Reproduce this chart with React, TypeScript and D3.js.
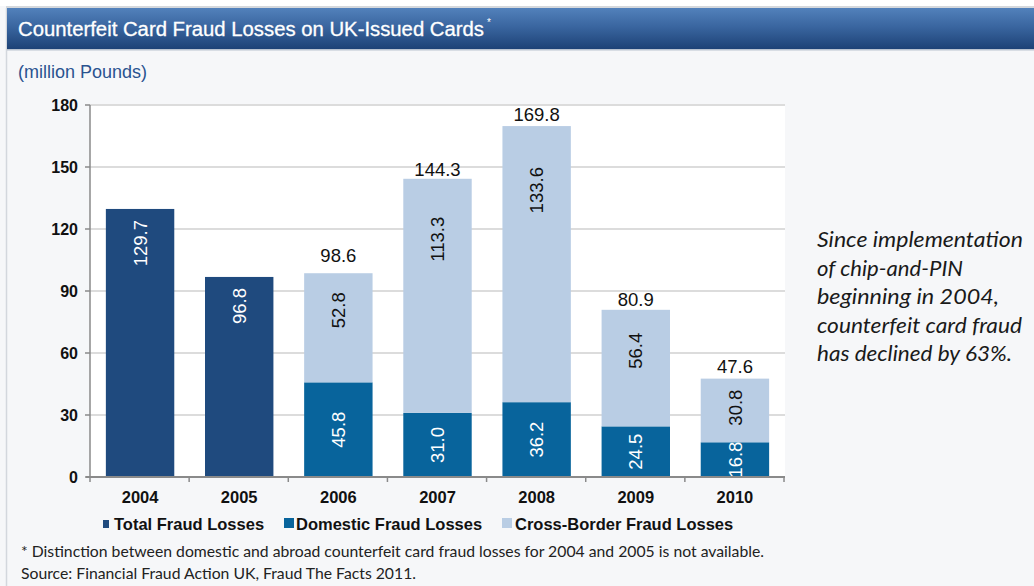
import React from "react";
import * as d3 from "d3";

const years = ["2004", "2005", "2006", "2007", "2008", "2009", "2010"];
const totalLosses = [129.7, 96.8, 98.6, 144.3, 169.8, 80.9, 47.6];
const domesticLosses: (number | null)[] = [null, null, 45.8, 31.0, 36.2, 24.5, 16.8];
const crossBorderLosses: (number | null)[] = [null, null, 52.8, 113.3, 133.6, 56.4, 30.8];
const yTicks = [0, 30, 60, 90, 120, 150, 180];

const legendItems = [
  { label: "Total Fraud Losses", color: "#1f4a7e" },
  { label: "Domestic Fraud Losses", color: "#08649c" },
  { label: "Cross-Border Fraud Losses", color: "#b9cde4" },
];

const sideNote = [
  "Since implementation",
  "of chip-and-PIN",
  "beginning in 2004,",
  "counterfeit card fraud",
  "has declined by 63%.",
];

// layout tweaks for label placement (pixels), not data
const crossLabelInset = [0, 0, 19, 38, 41, 23, 11];
const totalLabelGap = [0, 0, 11, 3, 5, 4, 6];
const sideNoteWidths = [206, 146, 182, 205, 195];

const W = 1034;
const H = 586;
const M = { left: 90, right: 785, top: 105, bottom: 477 };

export default function App() {
  const x = d3
    .scaleBand<string>()
    .domain(years)
    .range([M.left, M.right])
    .paddingInner(0.31)
    .paddingOuter(0.16);
  const y = d3.scaleLinear().domain([0, 180]).range([M.bottom, M.top]);
  const step = x.step();
  const bw = x.bandwidth();
  const labelFont = "'Liberation Sans', Arial, sans-serif";

  return (
    <svg
      width={W}
      height={H}
      style={{ position: "absolute", left: 0, top: 0, display: "block" }}
      fontFamily={labelFont}
    >
      <defs>
        <linearGradient id="hdr" x1="0" y1="0" x2="0" y2="1">
          <stop offset="0" stopColor="#5281bb" />
          <stop offset="0.45" stopColor="#3a66a0" />
          <stop offset="1" stopColor="#1d4276" />
        </linearGradient>
        <clipPath id="plotClip">
          <rect x={M.left} y={M.top - 40} width={M.right - M.left} height={M.bottom - M.top + 40} />
        </clipPath>
      </defs>
      <rect x={0} y={0} width={W} height={H} fill="#f6f7f9" />
      <rect x={0} y={0} width={W} height={6} fill="#ffffff" />
      <rect x={6} y={6} width={W - 6} height={2} fill="#d5d8dc" />
      <line x1={6.5} y1={8} x2={6.5} y2={H} stroke="#d3d7dd" strokeWidth={1.5} />
      <rect x={7} y={8} width={W - 7} height={41} fill="url(#hdr)" />
      <rect x={7} y={49} width={W - 7} height={1.5} fill="#b9c3d0" />
      <text x={18} y={36} fill="#ffffff" fontSize={20} textLength={466} lengthAdjust="spacingAndGlyphs" stroke="#ffffff" strokeWidth={0.3}>
        Counterfeit Card Fraud Losses on UK-Issued Cards
      </text>
      <text x={487} y={26} fill="#ffffff" fontSize={10}>
        *
      </text>
      <text x={18} y={78} fill="#2a5390" fontSize={18}>
        (million Pounds)
      </text>

      {/* plot area */}
      <rect x={M.left} y={M.top} width={M.right - M.left} height={M.bottom - M.top} fill="#ffffff" />
      {yTicks
        .filter((t) => t > 0)
        .map((t) => (
          <line key={t} x1={M.left} x2={M.right} y1={y(t)} y2={y(t)} stroke="#dcdcdc" strokeWidth={2} />
        ))}

      {/* bars */}
      <g>
        {years.map((yr, i) => {
          const bx = x(yr)!;
          const dom = domesticLosses[i];
          const cb = crossBorderLosses[i];
          if (dom === null || cb === null) {
            return (
              <rect key={yr} x={bx} y={y(totalLosses[i])} width={bw} height={y(0) - y(totalLosses[i])} fill={legendItems[0].color} />
            );
          }
          return (
            <g key={yr}>
              <rect x={bx} y={y(dom)} width={bw} height={y(0) - y(dom)} fill={legendItems[1].color} />
              <rect x={bx} y={y(dom + cb)} width={bw} height={y(dom) - y(dom + cb)} fill={legendItems[2].color} />
            </g>
          );
        })}
      </g>

      {/* inside labels */}
      <g clipPath="url(#plotClip)" fontSize={18.5}>
        {years.map((yr, i) => {
          const cx = x(yr)! + bw / 2;
          const dom = domesticLosses[i];
          const cb = crossBorderLosses[i];
          if (dom === null || cb === null) {
            const ty = y(totalLosses[i]) + 11;
            return (
              <text key={yr} transform={`translate(${cx},${ty}) rotate(-90)`} textAnchor="end" dy="0.36em" fill="#ffffff">
                {totalLosses[i].toFixed(1)}
              </text>
            );
          }
          const dy = (y(dom) + y(0)) / 2;
          const cy = y(dom + cb) + crossLabelInset[i];
          return (
            <g key={yr}>
              <text transform={`translate(${cx},${dy}) rotate(-90)`} textAnchor="middle" dy="0.36em" fill="#ffffff">
                {dom.toFixed(1)}
              </text>
              <text transform={`translate(${cx},${cy}) rotate(-90)`} textAnchor="end" dy="0.36em" fill="#111111">
                {cb.toFixed(1)}
              </text>
            </g>
          );
        })}
      </g>

      {/* total labels above stacked bars */}
      <g fontSize={18.5} fill="#111111" textAnchor="middle">
        {years.map((yr, i) =>
          domesticLosses[i] === null ? null : (
            <text key={yr} x={x(yr)! + bw / 2} y={y(totalLosses[i]) - totalLabelGap[i]}>
              {totalLosses[i].toFixed(1)}
            </text>
          )
        )}
      </g>

      {/* axes */}
      <line x1={M.left} x2={M.left} y1={M.top} y2={M.bottom} stroke="#8a8a8a" strokeWidth={1.5} />
      <line x1={M.left - 4} x2={M.right} y1={M.bottom} y2={M.bottom} stroke="#8a8a8a" strokeWidth={2} />
      {yTicks.map((t) => (
        <g key={t}>
          <line x1={M.left - 5} x2={M.left} y1={y(t)} y2={y(t)} stroke="#8a8a8a" strokeWidth={1.5} />
          <text x={78} y={y(t)} dy="0.36em" textAnchor="end" fontSize={16} fontWeight="bold" fill="#111111">
            {t}
          </text>
        </g>
      ))}
      {d3.range(years.length + 1).map((k) => (
        <line
          key={k}
          x1={M.left + k * step}
          x2={M.left + k * step}
          y1={M.bottom}
          y2={M.bottom + 5}
          stroke="#8a8a8a"
          strokeWidth={1.5}
        />
      ))}
      {years.map((yr) => (
        <text key={yr} x={x(yr)! + bw / 2} y={503} textAnchor="middle" fontSize={16.5} fontWeight="bold" fill="#111111">
          {yr}
        </text>
      ))}

      {/* legend */}
      <g fontSize={16.5} fontWeight="bold" fill="#111111">
        <rect x={103} y={520} width={6} height={8} fill={legendItems[0].color} />
        <text x={114} y={530}>{legendItems[0].label}</text>
        <rect x={284} y={518} width={10} height={10} fill={legendItems[1].color} />
        <text x={296} y={530}>{legendItems[1].label}</text>
        <rect x={502} y={518} width={10} height={10} fill={legendItems[2].color} />
        <text x={515} y={530}>{legendItems[2].label}</text>
      </g>

      {/* footnote */}
      <g fontFamily="Lato, 'Open Sans', sans-serif" fontSize={15} fill="#222222">
        <text x={21} y={557} textLength={743} lengthAdjust="spacingAndGlyphs">
          * Distinction between domestic and abroad counterfeit card fraud losses for 2004 and 2005 is not available.
        </text>
        <text x={21} y={579} textLength={395} lengthAdjust="spacingAndGlyphs">
          Source: Financial Fraud Action UK, Fraud The Facts 2011.
        </text>
      </g>

      {/* side note */}
      <g fontFamily="Lato, 'Open Sans', sans-serif" fontStyle="italic" fontSize={20.5} fill="#1a1a1a">
        {sideNote.map((line, i) => (
          <text key={i} x={817} y={247 + i * 28.5} textLength={sideNoteWidths[i]} lengthAdjust="spacingAndGlyphs">
            {line}
          </text>
        ))}
      </g>
    </svg>
  );
}
